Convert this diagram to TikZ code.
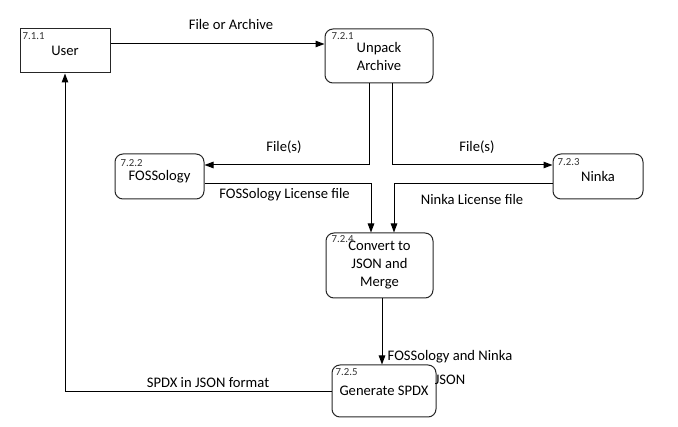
\documentclass[tikz,border=0pt]{standalone}
\usepackage{fontspec}
\setmainfont{Carlito}
\usetikzlibrary{arrows.meta}
\tikzset{
  base/.style={draw=black!85, line width=1pt, inner sep=0pt, align=center,
    font=\fontsize{14.6}{18}\selectfont},
  proc/.style={base, rounded corners=8pt},
  ent/.style={base},
  num/.style={anchor=north west, inner sep=0pt, text=black!80,
    font=\fontsize{10.8}{12}\selectfont},
  flow/.style={draw=black, line width=1pt, -{Triangle[length=9pt,width=6.5pt]}},
  wire/.style={draw=black, line width=1pt},
  lbl/.style={inner sep=0pt, align=center, font=\fontsize{14.6}{24}\selectfont}
}
\begin{document}
\begin{tikzpicture}[x=1pt,y=-1pt]
\useasboundingbox (0,0) rectangle (678,427);
% boxes
\node[ent, minimum width=90pt, minimum height=44pt] (user) at (65,51) {User};
\node[proc, minimum width=108pt, minimum height=54pt] (unpack) at (379,56) {Unpack\\Archive};
\node[proc, minimum width=89pt, minimum height=45pt] (foss) at (159.5,176.5) {FOSSology};
\node[proc, minimum width=90pt, minimum height=45pt] (ninka) at (598,176.5) {Ninka};
\node[proc, minimum width=107pt, minimum height=65pt] (conv) at (379.5,265.5) {Convert to\\JSON and\\Merge};
\node[proc, minimum width=104pt, minimum height=52pt] (gen) at (384,391) {Generate SPDX};
% numbers
\node[num] (n1) at ([shift={(3,4)}]user.north west) {7.1.1};
\node[num] (n2) at ([shift={(7,4)}]unpack.north west) {7.2.1};
\node[num] (n3) at ([shift={(6,6)}]foss.north west) {7.2.2};
\node[num] (n4) at ([shift={(5,5)}]ninka.north west) {7.2.3};
\node[num] (n5) at ([shift={(6,3)}]conv.north west) {7.2.4};
\node[num] (n6) at ([shift={(4,4)}]gen.north west) {7.2.5};
% connectors
\draw[flow] (user.east |- 0,44) -- (unpack.west |- 0,44);
\draw[flow] (unpack.south -| 369,0) -- (369,165) -- (foss.east |- 0,165);
\draw[flow] (unpack.south -| 392,0) -- (392,165) -- (ninka.west |- 0,165);
\draw[flow] (foss.east |- 0,184) -- (371,184) -- (conv.north -| 371,0);
\draw[flow] (ninka.west |- 0,184) -- (394,184) -- (conv.north -| 394,0);
\draw[flow] (conv.south -| 382,0) -- (gen.north -| 382,0);
\draw[flow] (gen.west |- 0,392) -- (65,392) -- (user.south);
% labels
\node[lbl] (l1) at (231,24) {File or Archive};
\node[lbl] (l2) at (284,147) {File(s)};
\node[lbl] (l3) at (477,147) {File(s)};
\node[lbl] (l4) at (284.5,195) {FOSSology License file};
\node[lbl] (l5) at (472,199) {Ninka License file};
\node[lbl] (l6) at (450,367) {FOSSology and Ninka\\JSON};
\node[lbl] (l7) at (208,383) {SPDX in JSON format};
\end{tikzpicture}
\end{document}
